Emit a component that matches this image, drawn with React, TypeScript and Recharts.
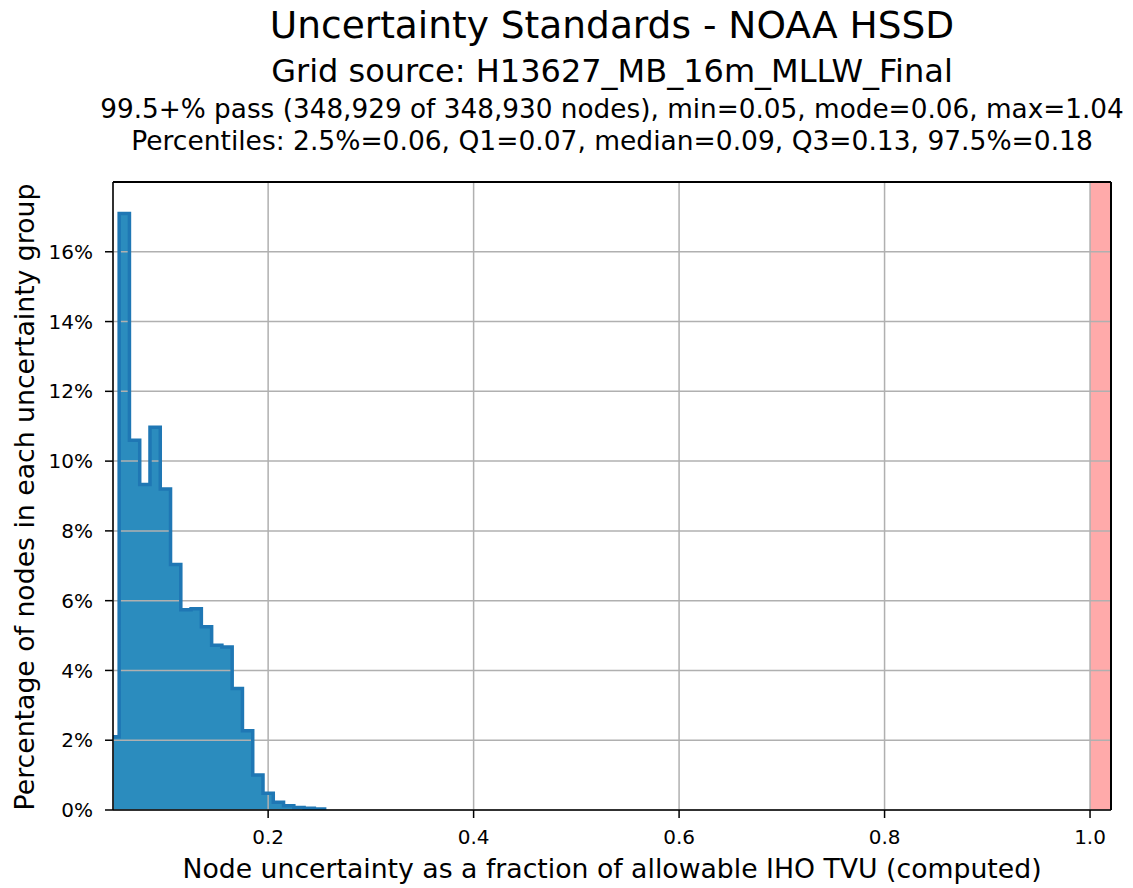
import React from 'react';
import { ComposedChart, Area, Line, XAxis, YAxis, CartesianGrid, ReferenceArea, ReferenceLine } from 'recharts';

document.body.style.margin = '0';

// histogram bins (left edge, width 0.01) and share of nodes in %
const binLeft = [
  0.045, 0.055, 0.065, 0.075, 0.085, 0.095, 0.105, 0.115, 0.125, 0.135, 0.145,
  0.155, 0.165, 0.175, 0.185, 0.195, 0.205, 0.215, 0.225, 0.235, 0.245,
];
const binPct = [
  2.1, 17.1, 10.6, 9.33, 10.97, 9.2, 7.04, 5.74, 5.77, 5.25, 4.72,
  4.67, 3.48, 2.27, 1.0, 0.48, 0.22, 0.12, 0.07, 0.05, 0.03,
];
const histEnd = 0.255;

const xDomain = [0.049, 1.0204];
const yDomain = [0, 18];
const xTicks = [0.2, 0.4, 0.6, 0.8, 1.0];
const yTicks = [0, 2, 4, 6, 8, 10, 12, 14, 16];
const failStart = 1.0;

const titleLines = [
  { text: 'Uncertainty Standards - NOAA HSSD', size: 37.5, y: 38 },
  { text: 'Grid source: H13627_MB_16m_MLLW_Final', size: 32, y: 82 },
  { text: '99.5+% pass (348,929 of 348,930 nodes), min=0.05, mode=0.06, max=1.04', size: 26.3, y: 118 },
  { text: 'Percentiles: 2.5%=0.06, Q1=0.07, median=0.09, Q3=0.13, 97.5%=0.18', size: 26.5, y: 150 },
];
const xLabel = 'Node uncertainty as a fraction of allowable IHO TVU (computed)';
const yLabel = 'Percentage of nodes in each uncertainty group';

const histData = [
  ...binLeft.map((x, i) => ({ x, pct: binPct[i] })),
  { x: histEnd, pct: 0 },
];

const font = '"DejaVu Sans", sans-serif';

export default function App() {
  return (
    <div style={{ position: 'relative', width: 1133, height: 888, fontFamily: font, background: '#fff' }}>
      <ComposedChart width={1133} height={888} data={histData} margin={{ top: 182, right: 22, bottom: 0, left: 0 }}>
        <XAxis
          dataKey="x"
          type="number"
          domain={xDomain}
          allowDataOverflow
          ticks={xTicks}
          tickFormatter={(v: number) => v.toFixed(1)}
          height={78}
          tickSize={8}
          tickMargin={12}
          axisLine={{ stroke: '#000', strokeWidth: 1.5 }}
          tickLine={{ stroke: '#000', strokeWidth: 1.5 }}
          tick={{ fill: '#000', fontSize: 20, fontFamily: font }}
        />
        <YAxis
          type="number"
          domain={yDomain}
          allowDataOverflow
          ticks={yTicks}
          tickFormatter={(v: number) => `${v}%`}
          width={113}
          tickSize={8}
          tickMargin={12}
          axisLine={{ stroke: '#000', strokeWidth: 1.5 }}
          tickLine={{ stroke: '#000', strokeWidth: 1.5 }}
          tick={{ fill: '#000', fontSize: 20, fontFamily: font }}
        />
        <ReferenceArea
          x1={failStart}
          x2={xDomain[1]}
          fill="#ffaaaa"
          fillOpacity={1}
          stroke="none"
          zIndex={50}
        />
        <Area
          type="stepAfter"
          dataKey="pct"
          stroke="none"
          fill="#2b8cbe"
          fillOpacity={1}
          isAnimationActive={false}
          zIndex={100}
        />
        <CartesianGrid stroke="#b0b0b0" strokeWidth={1.5} zIndex={150} />
        <Line
          type="stepAfter"
          dataKey="pct"
          stroke="#1f77b4"
          strokeWidth={3.5}
          dot={false}
          activeDot={false}
          isAnimationActive={false}
          zIndex={400}
        />
        <ReferenceLine y={yDomain[1]} stroke="#000" strokeWidth={2} ifOverflow="visible" zIndex={600} />
        <ReferenceLine x={xDomain[1]} stroke="#000" strokeWidth={2} ifOverflow="visible" zIndex={600} />
      </ComposedChart>
      <svg width={1133} height={888} style={{ position: 'absolute', left: 0, top: 0, pointerEvents: 'none' }}>
        {titleLines.map((t) => (
          <text key={t.text} x={612} y={t.y} textAnchor="middle" fontSize={t.size} fontFamily={font} fill="#000">
            {t.text}
          </text>
        ))}
        <text x={612} y={878} textAnchor="middle" fontSize={26.7} fontFamily={font} fill="#000">
          {xLabel}
        </text>
        <text
          x={34}
          y={497}
          textAnchor="middle"
          fontSize={26.7}
          fontFamily={font}
          fill="#000"
          transform="rotate(-90 34 497)"
        >
          {yLabel}
        </text>
      </svg>
    </div>
  );
}
